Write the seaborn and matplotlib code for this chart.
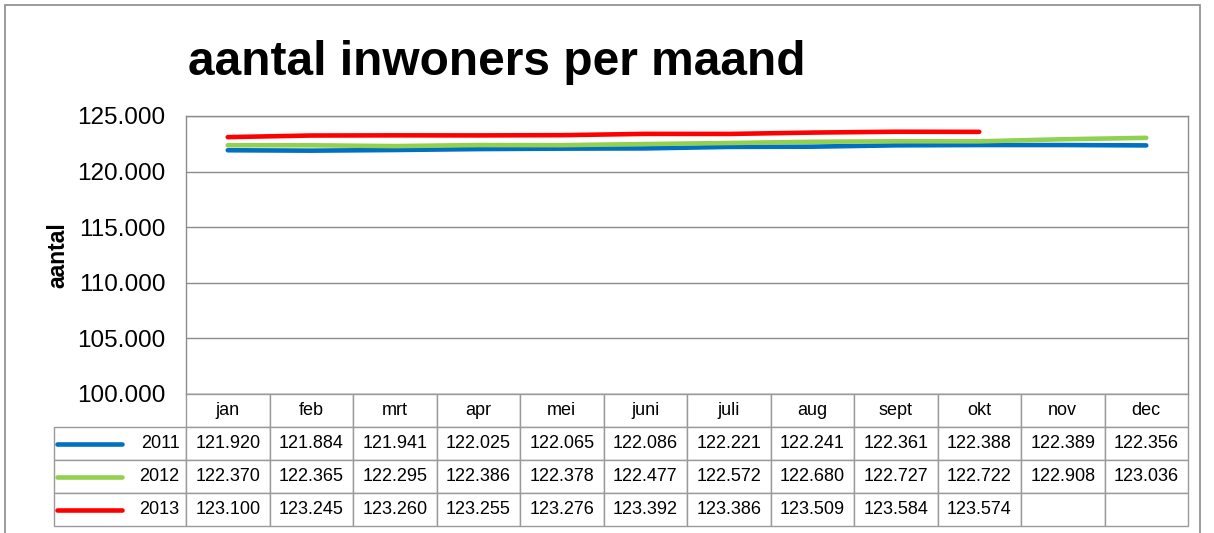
import numpy as np
import pandas as pd
import matplotlib
matplotlib.use("Agg")
import matplotlib.pyplot as plt
import seaborn as sns
from matplotlib.patches import Rectangle

months = ["jan", "feb", "mrt", "apr", "mei", "juni", "juli", "aug", "sept", "okt", "nov", "dec"]
years = ["2011", "2012", "2013"]
inw_2011 = [121920, 121884, 121941, 122025, 122065, 122086, 122221, 122241, 122361, 122388, 122389, 122356]
inw_2012 = [122370, 122365, 122295, 122386, 122378, 122477, 122572, 122680, 122727, 122722, 122908, 123036]
inw_2013 = [123100, 123245, 123260, 123255, 123276, 123392, 123386, 123509, 123584, 123574, np.nan, np.nan]
yticks = [100000, 105000, 110000, 115000, 120000, 125000]
colors = {"2011": "#0070C0", "2012": "#92D050", "2013": "#FF0000"}

title = "aantal inwoners per maand"
ylabel = "aantal"


def nl(v):
    return f"{int(v):,}".replace(",", ".")


W, H = 1214, 533
sns.set_theme(style="white")
plt.rcParams['font.family'] = ['Liberation Sans', 'DejaVu Sans']
plt.rcParams['text.color'] = 'black'

fig = plt.figure(figsize=(W / 100, H / 100), dpi=100)


def fr(x0, y0, x1, y1):
    return [x0 / W, 1 - y1 / H, (x1 - x0) / W, (y1 - y0) / H]


ax = fig.add_axes(fr(186, 116, 1188, 394))
df = pd.DataFrame({
    "pos": np.tile(np.arange(len(months)), len(years)),
    "jaar": np.repeat(years, len(months)),
    "aantal": inw_2011 + inw_2012 + inw_2013,
})
sns.lineplot(data=df, x="pos", y="aantal", hue="jaar", palette=colors,
             linewidth=3.3, legend=False, ax=ax, sort=False)
ax.set_xlim(-0.5, len(months) - 0.5)
ax.set_ylim(yticks[0], yticks[-1])
ax.set_yticks(yticks)
ax.set_yticklabels([nl(v) for v in yticks], fontsize=17.5, color="black")
ax.set_xticks([])
ax.set_xlabel("")
ax.set_ylabel("")
ax.tick_params(axis="y", length=0, pad=15)
ax.grid(axis="y", color="#8c8c8c", linewidth=1)
for s in ax.spines.values():
    s.set_color("#8c8c8c")
    s.set_linewidth(1)

fig.text(188 / W, 1 - 75 / H, title, fontsize=34.5, fontweight="bold",
         ha="left", va="baseline", color="black")
fig.text(58 / W, 1 - 255 / H, ylabel, fontsize=16.5, fontweight="bold",
         rotation=90, ha="center", va="center", color="black")

# data table
tx0, ty0, tx1, ty1 = 54, 394, 1188, 526
tax = fig.add_axes(fr(tx0, ty0, tx1, ty1))
tax.axis("off")
all_vals = [inw_2011, inw_2012, inw_2013]
rows = [[""] + months]
for y, vals in zip(years, all_vals):
    rows.append([y] + ["" if np.isnan(v) else nl(v) for v in vals])
labw = 132
colw = (tx1 - 186) / len(months)
tw = tx1 - tx0
tbl = tax.table(cellText=rows, bbox=[0, 0, 1, 1],
                colWidths=[labw / tw] + [colw / tw] * len(months), cellLoc="center")
tbl.auto_set_font_size(False)
tbl.set_fontsize(13)
for (r, c), cell in tbl.get_celld().items():
    cell.set_edgecolor("#9a9a9a")
    cell.set_linewidth(1)
    cell.get_text().set_color("black")
    if r == 0 and c == 0:
        cell.visible_edges = "open"
    if c == 0 and r > 0:
        cell._loc = "right"
        cell.PAD = 0.05
        cell.get_text().set_ha("right")
for i, y in enumerate(years):
    yc = 1 - (i + 1.5) / len(rows)
    tax.plot([3 / tw, 68 / tw], [yc, yc], transform=tax.transAxes,
             color=colors[y], linewidth=3.3, solid_capstyle="round", clip_on=False)

fig.add_artist(Rectangle((5 / W, -0.1), (1200 - 5) / W, 1 - 5 / H + 0.1,
                         transform=fig.transFigure, fill=False,
                         edgecolor="#8a8a8a", linewidth=1.2))

fig.savefig("out.png", dpi=100)
